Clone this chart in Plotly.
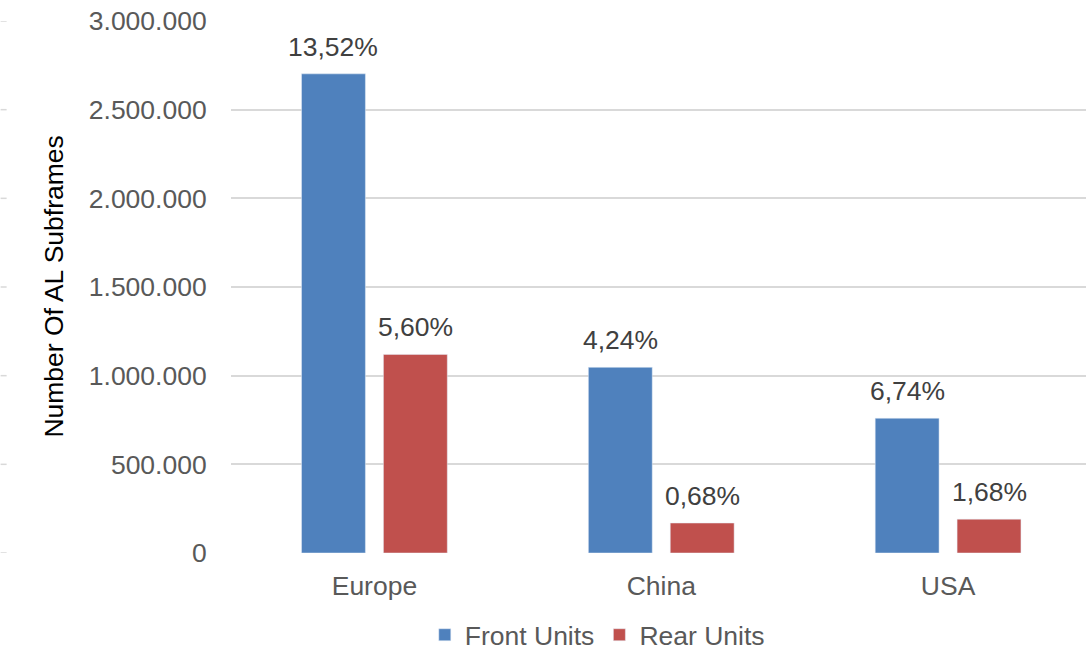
import plotly.graph_objects as go

# Aluminium subframe volumes by region
regions = ["Europe", "China", "USA"]
front_units = [2702000, 1047000, 760000]
rear_units = [1120000, 169000, 191000]
front_share = ["13,52%", "4,24%", "6,74%"]
rear_share = ["5,60%", "0,68%", "1,68%"]
y_ticks = [0, 500000, 1000000, 1500000, 2000000, 2500000, 3000000]
y_tick_text = ["0", "500.000", "1.000.000", "1.500.000", "2.000.000", "2.500.000", "3.000.000"]

BLUE = "#4F81BD"
RED = "#C0504D"
GRID = "#D9D9D9"
FONT = "Liberation Sans, Arial, sans-serif"
FS = 26.5

W, H = 1086, 652
left, right_px = 230.5, 1086
top_px, bottom_px = 21, 553

fig = go.Figure()
fig.add_trace(go.Bar(name="Front Units", x=regions, y=front_units, marker_color=BLUE))
fig.add_trace(go.Bar(name="Rear Units", x=regions, y=rear_units, marker_color=RED))

# Percentage labels above each bar
offset = 0.143
for i, r in enumerate(regions):
    for val, lab, dx in ((front_units[i], front_share[i], -offset), (rear_units[i], rear_share[i], offset)):
        fig.add_annotation(x=i + dx, y=val, xref="x", yref="y", text=lab, showarrow=False,
                           yanchor="bottom", yshift=10,
                           font=dict(family=FONT, size=FS, color="#404040"))

# Axis title
plot_w = right_px - left
fig.add_annotation(x=(36 - left) / plot_w, y=0.5, xref="paper", yref="paper",
                   text="Number Of AL Subframes", textangle=-90, showarrow=False,
                   font=dict(family=FONT, size=FS, color="#000000"))

# Stub grid marks at the far left edge
for t in y_ticks:
    fig.add_shape(type="line", xref="paper", yref="y",
                  x0=(0 - left) / plot_w, x1=(6 - left) / plot_w, y0=t, y1=t,
                  line=dict(color=GRID, width=1.5))

x_end = 2.5 - (1091.5 - right_px) / 287.0

fig.update_layout(
    width=W, height=H,
    margin=dict(l=left, r=W - right_px, t=top_px, b=H - bottom_px, pad=0, autoexpand=False),
    paper_bgcolor="white", plot_bgcolor="white",
    barmode="group", bargap=0.429, bargroupgap=0.22,
    font=dict(family=FONT, size=FS, color="#595959"),
    showlegend=True,
    legend=dict(orientation="h", x=(597 - left) / plot_w, xanchor="center",
                y=-(635 - bottom_px) / (bottom_px - top_px), yanchor="middle",
                font=dict(family=FONT, size=FS, color="#595959"),
                itemclick=False),
    xaxis=dict(range=[-0.5, x_end], showgrid=False, showline=False, zeroline=False,
               automargin=False,
               ticks="outside", ticklen=9, tickcolor="rgba(0,0,0,0)",
               tickfont=dict(family=FONT, size=FS, color="#595959")),
    yaxis=dict(range=[0, 3000000], tickvals=y_ticks, ticktext=y_tick_text,
               automargin=False,
               showgrid=True, gridcolor=GRID, gridwidth=1.5, zeroline=False,
               showline=False, ticks="outside", ticklen=18, tickcolor="rgba(0,0,0,0)",
               tickfont=dict(family=FONT, size=FS, color="#595959")),
)

fig.write_html("out.html")
